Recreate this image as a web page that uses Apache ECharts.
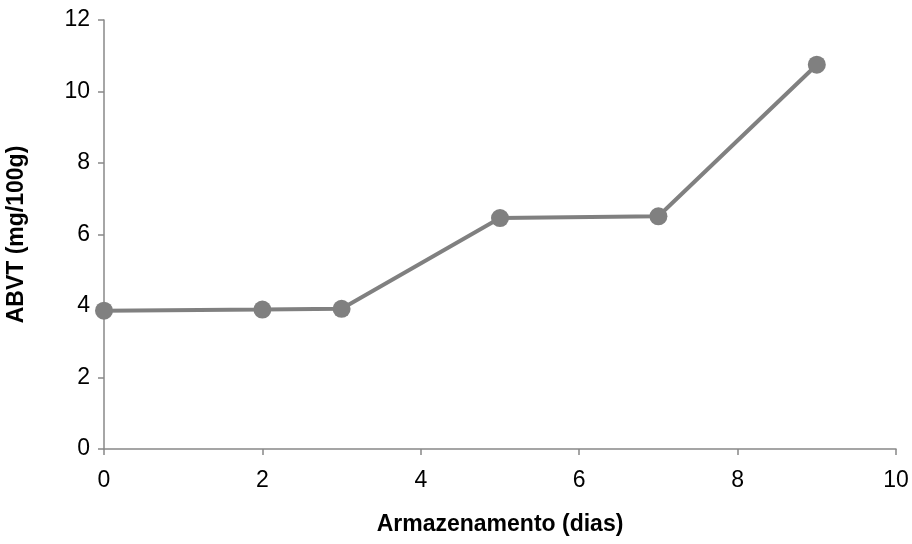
<!DOCTYPE html>
<html><head><meta charset="utf-8">
<script src="https://cdn.jsdelivr.net/npm/echarts@6/dist/echarts.min.js"></script>
<style>html,body{margin:0;padding:0;background:#fff}#c{width:912px;height:544px}</style>
</head><body><div id="c"></div>
<script>
const days = [0, 2, 3, 5, 7, 9];
const abvt = [3.87, 3.90, 3.92, 6.46, 6.51, 10.75];
const xTitle = 'Armazenamento (dias)';
const yTitle = 'ABVT (mg/100g)';
const font = 'Liberation Sans, Arial, sans-serif';
const chart = echarts.init(document.getElementById('c'), null, {renderer:'canvas'});
chart.setOption({
  animation:false,
  backgroundColor:'#fff',
  grid:{left:104, right:16, top:20, bottom:95, containLabel:false, outerBoundsMode:'none'},
  xAxis:{type:'value', min:0, max:10, interval:2,
    name:xTitle, nameLocation:'middle', nameGap:64,
    nameTextStyle:{fontFamily:font, fontSize:23, fontWeight:'bold', color:'#000'},
    axisLine:{show:true, lineStyle:{color:'#888', width:1.5}},
    axisTick:{show:true, inside:false, length:6, lineStyle:{color:'#888', width:1.5}},
    axisLabel:{fontFamily:font, fontSize:23, color:'#000', margin:20},
    splitLine:{show:false}},
  yAxis:{type:'value', min:0, max:12, interval:2,
    name:yTitle, nameLocation:'middle', nameGap:76,
    nameTextStyle:{fontFamily:font, fontSize:23, fontWeight:'bold', color:'#000'},
    axisLine:{show:true, lineStyle:{color:'#888', width:1.5}},
    axisTick:{show:true, inside:false, length:6, lineStyle:{color:'#888', width:1.5}},
    axisLabel:{fontFamily:font, fontSize:23, color:'#000', margin:14},
    splitLine:{show:false}},
  series:[{type:'line', data:days.map((d,i)=>[d, abvt[i]]),
    symbol:'circle', symbolSize:18,
    lineStyle:{color:'#808080', width:4},
    itemStyle:{color:'#808080'}}]
});
</script></body></html>
